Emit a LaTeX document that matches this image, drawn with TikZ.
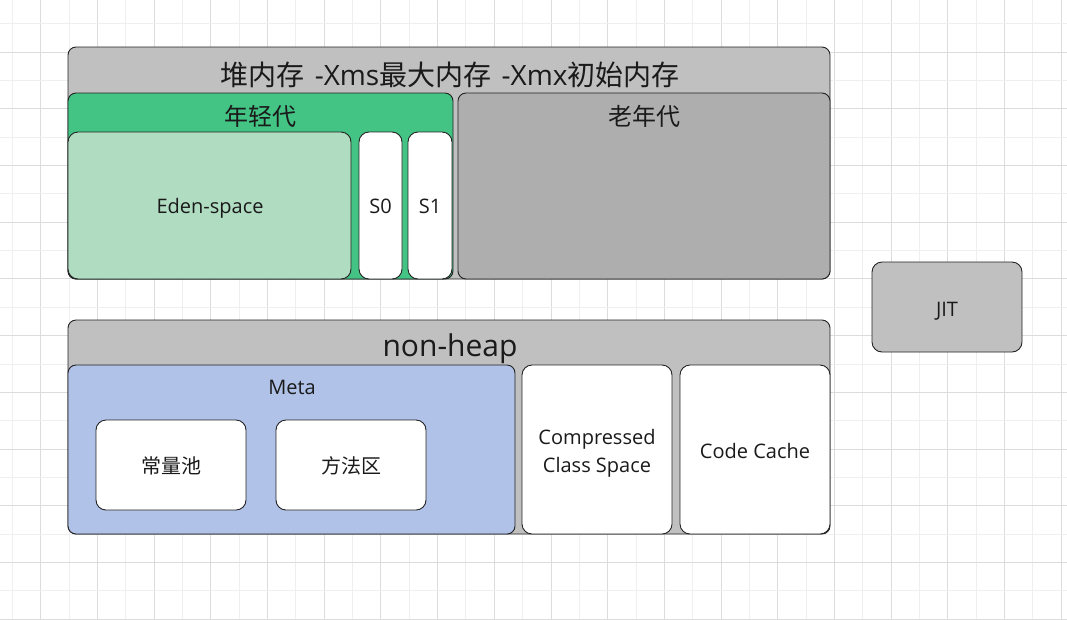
\documentclass[tikz,border=0pt]{standalone}
\usepackage{fontspec}
\setmainfont{Open Sans}
\newfontfamily\cjk{Noto Sans CJK SC}
\definecolor{gridminor}{HTML}{EFEFEF}
\definecolor{gridmajor}{HTML}{DCDCDC}
\definecolor{boxgrey}{HTML}{C0C0C0}
\definecolor{oldgrey}{HTML}{AEAEAE}
\definecolor{younggreen}{HTML}{43C384}
\definecolor{edengreen}{HTML}{B0DCC2}
\definecolor{metablue}{HTML}{B0C2E8}
\definecolor{edgecol}{HTML}{222222}
\definecolor{textcol}{HTML}{1A1A1A}
\tikzset{
  area/.style={draw=edgecol, line width=0.9pt, rounded corners=8pt, inner sep=0pt},
  cell/.style={draw=edgecol, line width=0.9pt, rounded corners=10pt, inner sep=0pt, fill=white},
  lbl/.style={text=textcol, inner sep=0pt, anchor=base},
  bigtitle/.style={lbl, font=\fontsize{28}{32}\selectfont},
  midtitle/.style={lbl, font=\fontsize{24}{28}\selectfont\cjk},
  celltext/.style={lbl, font=\fontsize{20}{28}\selectfont},
}
\begin{document}
\begin{tikzpicture}[x=1pt,y=-1pt]
\useasboundingbox (0,0) rectangle (1067,619);
\fill[white] (0,0) rectangle (1067,619);
% background grid
\foreach \k in {0,...,37} {
  \pgfmathsetmacro{\gx}{12.3+28.35*\k}
  \pgfmathtruncatemacro{\odd}{mod(\k,2)}
  \ifnum\odd=1
    \draw[gridmajor, line width=0.9pt] (\gx,0) -- (\gx,619);
  \else
    \draw[gridminor, line width=0.9pt] (\gx,0) -- (\gx,619);
  \fi
}
\foreach \k in {0,...,21} {
  \pgfmathsetmacro{\gy}{23.75+28.35*\k}
  \pgfmathtruncatemacro{\odd}{mod(\k,2)}
  \ifnum\odd=1
    \draw[gridmajor, line width=0.9pt] (0,\gy) -- (1067,\gy);
  \else
    \draw[gridminor, line width=0.9pt] (0,\gy) -- (1067,\gy);
  \fi
}
% heap
\node[area, fill=boxgrey, minimum width=762pt, minimum height=232pt] (heap) at (449,163) {};
\node[bigtitle] (heaptitle) at (450,85) {{\cjk 堆内存}\hspace{3pt} -Xms{\cjk 最大内存}\hspace{3pt} -Xmx{\cjk 初始内存}};
\node[area, fill=younggreen, minimum width=385pt, minimum height=186pt] (young) at (260.5,186) {};
\node[midtitle] (youngtitle) at (260,125) {年轻代};
\node[area, fill=oldgrey, minimum width=372pt, minimum height=186pt] (old) at (644,186) {};
\node[midtitle] (oldtitle) at (644,125) {老年代};
\node[cell, fill=edengreen, minimum width=283pt, minimum height=147pt] (eden) at (209.5,205.5) {};
\node[celltext] (edentext) at (210,213.5) {Eden-space};
\node[cell, minimum width=43pt, minimum height=147pt] (s0) at (380.5,205.5) {};
\node[celltext] (s0text) at (380.5,213.5) {S0};
\node[cell, minimum width=44pt, minimum height=147pt] (s1) at (430,205.5) {};
\node[celltext] (s1text) at (430,213.5) {S1};
% non-heap
\node[area, fill=boxgrey, minimum width=762pt, minimum height=214pt] (nonheap) at (449,427) {};
\node[bigtitle, font=\fontsize{30}{34}\selectfont] (nonheaptitle) at (450,356.5) {non-heap};
\node[area, fill=metablue, minimum width=447pt, minimum height=169pt] (meta) at (291.5,449.5) {};
\node[celltext] (metatitle) at (292,394) {Meta};
\node[cell, minimum width=150pt, minimum height=90pt] (pool) at (171,465) {};
\node[celltext, font=\fontsize{20}{28}\selectfont\cjk] (pooltext) at (171,473.5) {常量池};
\node[cell, minimum width=150pt, minimum height=90pt] (method) at (351,465) {};
\node[celltext, font=\fontsize{20}{28}\selectfont\cjk] (methodtext) at (351,473.5) {方法区};
\node[cell, minimum width=150pt, minimum height=169pt] (ccs) at (597,449.5) {};
\node[celltext] (ccstext1) at (597,444) {Compressed};
\node[celltext] (ccstext2) at (597,472.5) {Class Space};
\node[cell, minimum width=150pt, minimum height=169pt] (codecache) at (755,449.5) {};
\node[celltext] (codecachetext) at (755,458) {Code Cache};
% JIT
\node[cell, fill=boxgrey, minimum width=150pt, minimum height=90pt] (jit) at (947,307) {};
\node[celltext] (jittext) at (947,316) {JIT};
\end{tikzpicture}
\end{document}
